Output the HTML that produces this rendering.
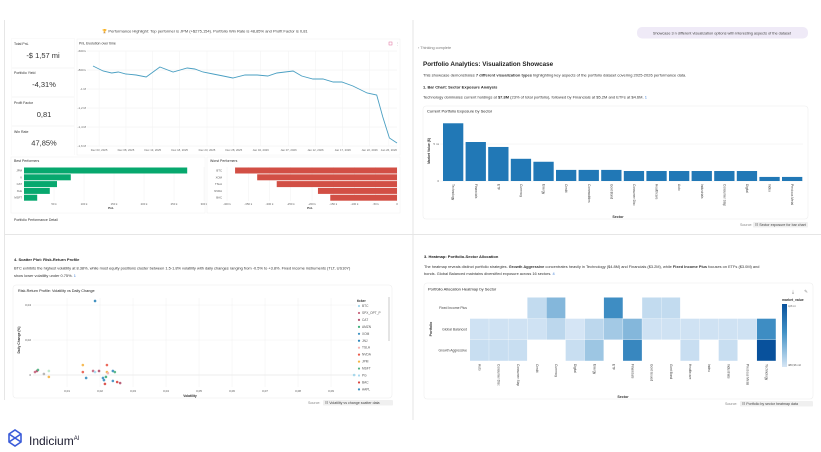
<!DOCTYPE html>
<html><head><meta charset="utf-8">
<style>
html,body{margin:0;padding:0;background:#fff;}
svg{display:block;font-family:"Liberation Sans",sans-serif;}
</style></head>
<body>
<svg id="root" width="821" height="452" viewBox="0 0 821 452" xmlns="http://www.w3.org/2000/svg">
<rect x="0" y="0" width="821" height="452" fill="#ffffff"/>
<!-- dividers -->
<line x1="4.5" y1="20" x2="4.5" y2="234" stroke="#e6e6e6"/>
<line x1="413" y1="20" x2="413" y2="234" stroke="#e6e6e6"/>
<line x1="4.5" y1="234" x2="4.5" y2="400" stroke="#e6e6e6"/>
<line x1="413" y1="234" x2="413" y2="420" stroke="#e6e6e6"/>
<line x1="4" y1="234.5" x2="821" y2="234.5" stroke="#e6e6e6"/>

<!-- ========== TOP LEFT DASHBOARD ========== -->
<g>
<text x="205" y="32.5" font-size="4" fill="#444" text-anchor="middle">🏆 Performance Highlight: Top performer is JPM (+$275,154). Portfolio Win Rate is 48,85% and Profit Factor is 0,81</text>
<rect x="11" y="38" width="64" height="117" fill="#fafafa"/>
<rect x="12" y="39" width="62" height="28" fill="#fff"/>
<rect x="12" y="69" width="62" height="27" fill="#fff"/>
<rect x="12" y="98" width="62" height="27" fill="#fff"/>
<rect x="12" y="127" width="62" height="28" fill="#fff"/>
<text x="14" y="45" font-size="3.5" fill="#333">Total PnL</text>
<text x="43" y="58" font-size="7.5" fill="#333" text-anchor="middle">-$ 1,57 mi</text>
<text x="14" y="74" font-size="3.5" fill="#333">Portfolio Yield</text>
<text x="44" y="87" font-size="7.5" fill="#333" text-anchor="middle">-4,31%</text>
<text x="14" y="104" font-size="3.5" fill="#333">Profit Factor</text>
<text x="44" y="117" font-size="7.5" fill="#333" text-anchor="middle">0,81</text>
<text x="14" y="133" font-size="3.5" fill="#333">Win Rate</text>
<text x="44" y="145.5" font-size="7.5" fill="#333" text-anchor="middle">47,85%</text>

<rect x="77" y="39" width="323" height="116" fill="#fff" stroke="#f0f0f0" stroke-width="0.5"/>
<text x="79" y="44.5" font-size="3.5" fill="#333">PnL Evolution over time</text>
<rect x="389" y="42" width="3" height="3" fill="none" stroke="#e06b9a" stroke-width="0.5"/>
<text x="396" y="45" font-size="3.5" fill="#999">⋮</text>
<g id="lineChart"></g>

<rect x="11" y="157" width="194" height="56" fill="#fff" stroke="#f0f0f0" stroke-width="0.5"/>
<text x="14" y="162" font-size="3.5" fill="#333">Best Performers</text>
<g id="bestChart"></g>
<rect x="207" y="157" width="193" height="56" fill="#fff" stroke="#f0f0f0" stroke-width="0.5"/>
<text x="210" y="162" font-size="3.5" fill="#333">Worst Performers</text>
<g id="worstChart"></g>
<text x="14" y="221" font-size="3.5" fill="#333">Portfolio Performance Detail</text>
</g>

<!-- ========== TOP RIGHT ========== -->
<g>
<rect x="637" y="27" width="171" height="11.5" rx="5" fill="#efeaf7"/>
<text x="722" y="34.5" font-size="3.8" fill="#444" text-anchor="middle">Showcase 3 n different visualization options with interesting aspects of the dataset</text>
<text x="418" y="49" font-size="3.8" fill="#777">›  Thinking complete</text>
<text x="423" y="66" font-size="6.3" font-weight="bold" fill="#222">Portfolio Analytics: Visualization Showcase</text>
<text x="423" y="76.5" font-size="4" fill="#333">This showcase demonstrates <tspan font-weight="bold">7 different visualization types</tspan> highlighting key aspects of the portfolio dataset covering 2025-2026 performance data.</text>
<text x="423" y="88.5" font-size="4" font-weight="bold" fill="#222">1. Bar Chart: Sector Exposure Analysis</text>
<text x="423" y="98.5" font-size="4" fill="#333">Technology dominates current holdings at <tspan font-weight="bold">$7.8M</tspan> (23% of total portfolio), followed by Financials at $5.2M and ETFs at $4.6M. <tspan fill="#3b7dd8">1</tspan></text>
<rect x="423" y="106" width="385" height="113" rx="3" fill="#fff" stroke="#eeeeee" stroke-width="0.6"/>
<text x="427" y="112.5" font-size="4" fill="#222">Current Portfolio Exposure by Sector</text>
<g id="barChart"></g>
<text x="740" y="226" font-size="3.6" fill="#888">Source:</text>
<rect x="753" y="222" width="55" height="5.5" rx="1" fill="#f0f0f0"/>
<text x="755" y="226" font-size="3.6" fill="#444">☷ Sector exposure for bar chart</text>
</g>

<!-- ========== BOTTOM LEFT ========== -->
<g>
<text x="14" y="261" font-size="4" font-weight="bold" fill="#222">4. Scatter Plot: Risk-Return Profile</text>
<text x="14" y="269.5" font-size="3.9" fill="#333">BTC exhibits the highest volatility at 8.38%, while most equity positions cluster between 1.5-1.8% volatility with daily changes ranging from -0.5% to +3.8%. Fixed income instruments (TLT, US10Y)</text>
<text x="14" y="277" font-size="3.9" fill="#333">show lower volatility under 0.75%. <tspan fill="#3b7dd8">1</tspan></text>
<rect x="13" y="285" width="379" height="113" rx="3" fill="#fff" stroke="#eeeeee" stroke-width="0.6"/>
<text x="18" y="292" font-size="3.8" fill="#222">Risk-Return Profile: Volatility vs Daily Change</text>
<g id="scatterChart"></g>
<text x="308" y="404" font-size="3.6" fill="#888">Source:</text>
<rect x="323" y="400" width="70" height="5.5" rx="1" fill="#f0f0f0"/>
<text x="325" y="404" font-size="3.6" fill="#444">☷ Volatility vs change scatter data</text>
<g>
<path d="M9 434 L15 430 L21 434 L21 442 L15 446 L9 442 Z M9 434 L21 442 M21 434 L9 442" fill="none" stroke="#3a5bd9" stroke-width="1.6"/>
<text x="29" y="445" font-size="12" fill="#1a1a2e">Indicium<tspan font-size="6" dy="-5">AI</tspan></text>
</g>
</g>

<!-- ========== BOTTOM RIGHT ========== -->
<g>
<text x="424" y="258" font-size="4" font-weight="bold" fill="#222">3. Heatmap: Portfolio-Sector Allocation</text>
<text x="424" y="268" font-size="3.9" fill="#333">The heatmap reveals distinct portfolio strategies. <tspan font-weight="bold">Growth Aggressive</tspan> concentrates heavily in Technology ($4.8M) and Financials ($3.2M), while <tspan font-weight="bold">Fixed Income Plus</tspan> focuses on ETFs ($3.0M) and</text>
<text x="424" y="275" font-size="3.9" fill="#333">bonds. Global Balanced maintains diversified exposure across 16 sectors. <tspan fill="#3b7dd8">4</tspan></text>
<rect x="424" y="283" width="389" height="116" rx="3" fill="#fff" stroke="#eeeeee" stroke-width="0.6"/>
<text x="428" y="290.5" font-size="4" fill="#222">Portfolio Allocation Heatmap by Sector</text>
<text x="793" y="293" font-size="4.5" fill="#888" text-anchor="middle">⤓</text>
<text x="806" y="293" font-size="4.5" fill="#888" text-anchor="middle">✎</text>
<g id="heatChart"></g>
<text x="725" y="405" font-size="3.6" fill="#888">Source:</text>
<rect x="740" y="401" width="73" height="5.5" rx="1" fill="#f0f0f0"/>
<text x="742" y="405" font-size="3.6" fill="#444">☷ Portfolio by sector heatmap data</text>
</g>
</svg>

<script>
// ---------- data ----------
const lineDays = [0,2,3.7,5,6.5,8.5,10.5,13.2,15.8,18.6,20.1,21.7,23.7,25.7,27.6,30,32.4,34.5,36.3,39.5,41.2,43.4,45.4,47.4,49.1,51.3,54.1,56,57.2,58.5,60];
const lineValues = [-0.758,-0.811,-0.832,-0.821,-0.842,-0.853,-0.874,-0.768,-0.821,-0.779,-0.789,-0.821,-0.842,-0.863,-0.884,-0.853,-0.853,-0.863,-0.832,-0.811,-0.863,-0.895,-0.895,-0.926,-0.926,-0.968,-1.042,-1.063,-1.295,-1.516,-1.568];
const lineYTicks = [-0.6,-0.8,-1.0,-1.2,-1.4,-1.6];
const lineYTickLabels = ["-600 k","-800 k","-1 M","-1,2 M","-1,4 M","-1,6 M"];
const lineXTicks = [1.2,6.5,11.8,17.1,22.5,27.8,33.1,38.6,43.9,49.3,54.6,58.4];
const lineXTickLabels = ["Dec 03, 2025","Dec 08, 2025","Dec 13, 2025","Dec 18, 2025","Dec 23, 2025","Dec 28, 2025","Jan 02, 2026","Jan 07, 2026","Jan 12, 2026","Jan 17, 2026","Jan 22, 2026","Jan 26, 2026"];

const bestNames = ["JPM","V","CAT","XLE","MSFT"];
const bestValues = [272000,78000,55000,43000,22000];
const bestTicks = [50000,100000,150000,200000,250000,300000];
const bestTickLabels = ["50 k","100 k","150 k","200 k","250 k","300 k"];

const worstNames = ["BTC","XOM","TSLA","NVDA","BAC"];
const worstValues = [-381000,-329000,-283000,-186000,-157000];
const worstTicks = [-400000,-350000,-300000,-250000,-200000,-150000,-100000,-50000,0];
const worstTickLabels = ["-400 k","-350 k","-300 k","-250 k","-200 k","-150 k","-100 k","-50 k","0"];

const sectors = ["Technology","Financials","ETF","Currency","Energy","Credit","Commodities","Govt Bond","Consumer Disc","Healthcare","Auto","Industrials","Consumer Stap","Digital","Index","Precious Metal"];
const sectorValues = [7.8,5.27,4.6,3.0,2.6,1.5,1.5,1.5,1.35,1.35,1.35,1.35,1.35,1.35,0.55,0.55];
const barYTicks = [0,5];
const barYTickLabels = ["0","5 mi"];

const scatterTickers = ["JNJ","SPX_OPT_P","CAT","MSFT","TLT","US10Y","JPM","GLD","NVDA","XOM","SPX_OPT_P","PG","CAT","AAPL","XOM","BAC","AMZN","NVDA","JPM","TSLA","XOM","AAPL","MSFT","BAC","CAT","BTC"];
const scatterVol = [0.0185,0.0003,0.0009,0.0012,0.0030,0.0045,0.0045,0.0148,0.0148,0.0158,0.0179,0.0185,0.0197,0.0209,0.0212,0.0215,0.0218,0.0221,0.0221,0.0224,0.0239,0.0239,0.0245,0.0252,0.0261,0.0970];
const scatterChg = [0.0423,0.0017,0.0023,0.0029,0.0006,0.0023,-0.0011,0.0057,0.0017,-0.0017,0.0023,0.0017,0.0023,-0.0017,-0.0029,-0.0051,-0.0011,0.0057,0.0017,0.0011,0.0023,-0.0034,0.0017,-0.0040,-0.0046,0.0000];
const scatterXTicks = [0.01,0.02,0.03,0.04,0.05,0.06,0.07,0.08,0.09];
const scatterXTickLabels = ["0,01","0,02","0,03","0,04","0,05","0,06","0,07","0,08","0,09"];
const scatterYTicks = [0,0.02,0.04];
const scatterYTickLabels = ["0","0,02","0,04"];
const legendTickers = ["BTC","SPX_OPT_P","CAT","AMZN","XOM","JNJ","TSLA","NVDA","JPM","MSFT","PG","BAC","AAPL","US10Y"];

const heatSectors = ["Auto","Consumer Disc","Consumer Stap","Credit","Currency","Digital","Energy","ETF","Financials","Govt Issued","Govt Bond","Healthcare","Index","Industrials","Precious Metal","Technology"];
const heatPortfolios = ["Fixed Income Plus","Global Balanced","Growth Aggressive"];
const heatFixedIncome = [null,null,null,0.8,1.8,null,null,3.0,null,0.8,0.8,null,null,null,null,null];
const heatGlobalBalanced = [0.6,0.6,0.6,0.6,0.9,0.5,0.9,1.3,1.8,0.6,0.6,0.6,0.6,0.6,0.6,3.0];
const heatGrowth = [0.7,0.7,0.7,null,null,0.7,1.4,null,3.2,null,null,0.7,null,0.7,null,4.8];
const heatMin = 0.481, heatMax = 4.8;

// ---------- helpers ----------
const NS = "http://www.w3.org/2000/svg";
function mk(parent, tag, attrs, txt){
  const el = document.createElementNS(NS, tag);
  for (const k in attrs) el.setAttribute(k, attrs[k]);
  if (txt !== undefined) el.textContent = txt;
  parent.appendChild(el);
  return el;
}
function lin(d0,d1,r0,r1){ return v => r0 + (v-d0)/(d1-d0)*(r1-r0); }

// ---------- line chart ----------
(function(){
  const g = document.getElementById('lineChart');
  const x = lin(0,60,93,397), y = lin(-0.6,-1.6,51,146);
  lineYTicks.forEach((t,i)=>{
    const gl = mk(g,'line',{x1:87,x2:397,y1:y(t),y2:y(t),stroke:'#eeeeee','stroke-width':0.5});
    
    
    const tl = mk(g,'text',{x:86,y:y(t)+1,'font-size':3,fill:'#666','text-anchor':'end'},lineYTickLabels[i]);
    
    
  });
  lineXTicks.forEach((t,i)=>{
    const gl = mk(g,'line',{x1:x(t),x2:x(t),y1:51,y2:146,stroke:'#f2f2f2','stroke-width':0.5});
    
    
    const tl = mk(g,'text',{x:x(t),y:151,'font-size':2.8,fill:'#666','text-anchor':'middle'},lineXTickLabels[i]);
    
    
  });
  const pts = lineDays.map((d,i)=>x(d).toFixed(1)+','+y(lineValues[i]).toFixed(1)).join(' ');
  const pl = mk(g,'polyline',{points:pts,fill:'none',stroke:'#4a9fc2','stroke-width':0.9});
  
  
})();

// ---------- best / worst ----------
(function(){
  const g = document.getElementById('bestChart');
  const x = lin(0,50000,24,54);
  bestTicks.forEach((t,i)=>{
    const gl = mk(g,'line',{x1:x(t),x2:x(t),y1:167,y2:201,stroke:'#f0f0f0','stroke-width':0.5});
    
    
    const tl = mk(g,'text',{x:x(t),y:205,'font-size':2.8,fill:'#666','text-anchor':'middle'},bestTickLabels[i]);
    
    
  });
  bestNames.forEach((n,i)=>{
    const yy = 167.5 + i*6.8;
    const r = mk(g,'rect',{x:24,y:yy,width:x(bestValues[i])-24,height:6,fill:'#07a86e'});
    
    
    const tl = mk(g,'text',{x:22,y:yy+4,'font-size':2.8,fill:'#555','text-anchor':'end'},n);
    
    
  });
  const al = mk(g,'text',{x:111,y:209,'font-size':3,'font-weight':'bold',fill:'#333','text-anchor':'middle'},'PnL');
  
  

  const w = document.getElementById('worstChart');
  const xw = lin(-400000,0,227,397);
  worstTicks.forEach((t,i)=>{
    const gl = mk(w,'line',{x1:xw(t),x2:xw(t),y1:167,y2:201,stroke:'#f0f0f0','stroke-width':0.5});
    
    
    const tl = mk(w,'text',{x:xw(t),y:205,'font-size':2.8,fill:'#666','text-anchor':'middle'},worstTickLabels[i]);
    
    
  });
  worstNames.forEach((n,i)=>{
    const yy = 167.5 + i*6.8;
    const x0 = xw(worstValues[i]);
    const r = mk(w,'rect',{x:x0,y:yy,width:xw(0)-x0,height:6,fill:'#d24f45'});
    
    
    const tl = mk(w,'text',{x:222,y:yy+4,'font-size':2.8,fill:'#555','text-anchor':'end'},n);
    
    
  });
  const aw = mk(w,'text',{x:310,y:209,'font-size':3,'font-weight':'bold',fill:'#333','text-anchor':'middle'},'PnL');
  
  
})();

// ---------- sector bar chart ----------
(function(){
  const g = document.getElementById('barChart');
  const y = lin(0,5,181,144);
  const step = 22.6, x0 = 443, bw = 20.3;
  barYTicks.forEach((t,i)=>{
    const gl = mk(g,'line',{x1:440,x2:803,y1:y(t),y2:y(t),stroke:'#eeeeee','stroke-width':0.5});
    
    
    const tl = mk(g,'text',{x:439,y:y(t)+1,'font-size':3,fill:'#666','text-anchor':'end'},barYTickLabels[i]);
    
    
  });
  sectors.forEach((s,i)=>{
    const xx = x0 + i*step;
    const r = mk(g,'rect',{x:xx,y:y(sectorValues[i]),width:bw,height:y(0)-y(sectorValues[i]),fill:'#2178b6'});
    
    
    const cx = xx + bw/2 - 1;
    const tl = mk(g,'text',{x:cx,y:184,'font-size':3.2,fill:'#444',transform:`rotate(90 ${cx} 184)`},s);
    
    
  });
  const xt = mk(g,'text',{x:618,y:218,'font-size':3.6,'font-weight':'bold',fill:'#333','text-anchor':'middle'},'Sector');
  
  
  const yt = mk(g,'text',{x:430,y:151,'font-size':3.4,'font-weight':'bold',fill:'#333','text-anchor':'middle',transform:'rotate(-90 430 151)'},'Market Value ($)');
  
  
})();

// ---------- scatter ----------
(function(){
  const g = document.getElementById('scatterChart');
  const colors = {BTC:'#9fd4ea',SPX_OPT_P:'#c8667e',CAT:'#b3536f',AMZN:'#3fae7a',XOM:'#3a8fc0',JNJ:'#2f86ba',TSLA:'#f6b1ae',NVDA:'#ea5a4a',JPM:'#f5b444',MSFT:'#4db27f',PG:'#a9d9ee',BAC:'#d9443e',AAPL:'#3d90bf',US10Y:'#b9e6c9',TLT:'#b0b0b0',GLD:'#f5b444'};
  const x = lin(0,0.01,34,67), y = lin(0,0.02,375,340);
  scatterXTicks.forEach((t,i)=>{
    const gl = mk(g,'line',{x1:x(t),x2:x(t),y1:298,y2:387,stroke:'#f0f0f0','stroke-width':0.5});
    
    
    const tl = mk(g,'text',{x:x(t),y:392,'font-size':3,fill:'#555','text-anchor':'middle'},scatterXTickLabels[i]);
    
    
  });
  scatterYTicks.forEach((t,i)=>{
    const gl = mk(g,'line',{x1:33,x2:356,y1:y(t),y2:y(t),stroke:t===0?'#dddddd':'#f0f0f0','stroke-width':0.5});
    
    
    const tl = mk(g,'text',{x:31,y:y(t)+1,'font-size':3,fill:'#555','text-anchor':'end'},scatterYTickLabels[i]);
    
    
  });
  scatterVol.forEach((v,i)=>{
    const c = mk(g,'circle',{cx:x(v),cy:y(scatterChg[i]),r:1.3,fill:colors[scatterTickers[i]]||'#999',opacity:0.9});
    
    
  });
  const xt = mk(g,'text',{x:190,y:397,'font-size':3.3,'font-weight':'bold',fill:'#333','text-anchor':'middle'},'Volatility');
  
  
  const yt = mk(g,'text',{x:20,y:340,'font-size':3.3,'font-weight':'bold',fill:'#333','text-anchor':'middle',transform:'rotate(-90 20 340)'},'Daily Change (%)');
  
  
  const lt = mk(g,'text',{x:357,y:302,'font-size':3.3,'font-weight':'bold',fill:'#333'},'ticker');
  
  
  legendTickers.forEach((t,i)=>{
    const yy = 307 + i*6.95;
    if (yy > 397) return;
    const c = mk(g,'circle',{cx:359,cy:yy-1,r:1.1,fill:colors[t]});
    
    
    const tl = mk(g,'text',{x:362,y:yy,'font-size':3.2,fill:'#555'},t);
    
    
  });
  const sb = mk(g,'rect',{x:388.5,y:297,width:1,height:44,fill:'#c8c8c8'});
  
  
})();

// ---------- heatmap ----------
(function(){
  const g = document.getElementById('heatChart');
  const rows = [heatFixedIncome, heatGlobalBalanced, heatGrowth];
  const x0 = 470, cw = 19.13, y0 = 297.5, rh = 21.2;
  const stops = [[0,[214,230,245]],[0.55,[66,146,198]],[1,[8,81,156]]];
  function col(v){
    const f = Math.max(0,Math.min(1,(v-heatMin)/(heatMax-heatMin)));
    let a=stops[0], b=stops[1];
    if (f>stops[1][0]){a=stops[1];b=stops[2];}
    const t=(f-a[0])/(b[0]-a[0]);
    const c=a[1].map((q,k)=>Math.round(q+(b[1][k]-q)*t));
    return `rgb(${c[0]},${c[1]},${c[2]})`;
  }
  rows.forEach((row,ri)=>{
    row.forEach((v,ci)=>{
      if (v===null) return;
      const r = mk(g,'rect',{x:x0+ci*cw,y:y0+ri*rh,width:cw-0.3,height:rh-0.3,fill:col(v)});
      
      
    });
    const tl = mk(g,'text',{x:467,y:y0+ri*rh+rh/2+1,'font-size':3.4,fill:'#444','text-anchor':'end'},heatPortfolios[ri]);
    
    
  });
  heatSectors.forEach((s,ci)=>{
    const cx = x0 + ci*cw + cw/2 - 1;
    const tl = mk(g,'text',{x:cx,y:364,'font-size':3.2,fill:'#444',transform:`rotate(90 ${cx} 364)`},s);
    
    
  });
  const xt = mk(g,'text',{x:623,y:398,'font-size':3.6,'font-weight':'bold',fill:'#333','text-anchor':'middle'},'Sector');
  
  
  const yt = mk(g,'text',{x:432,y:329,'font-size':3.6,'font-weight':'bold',fill:'#333','text-anchor':'middle',transform:'rotate(-90 432 329)'},'Portfolio');
  
  
  const defs = mk(g,'defs',{});
  const lg = mk(defs,'linearGradient',{id:'heatGrad',x1:0,y1:1,x2:0,y2:0});
  stops.forEach(s=>mk(lg,'stop',{offset:s[0],'stop-color':`rgb(${s[1].join(',')})`}));
  const cb = mk(g,'rect',{x:782,y:304,width:5,height:63,fill:'url(#heatGrad)'});
  
  
  const ct = mk(g,'text',{x:782,y:301,'font-size':3.4,'font-weight':'bold',fill:'#333'},'market_value');
  
  
  const c1 = mk(g,'text',{x:788,y:307,'font-size':2.8,fill:'#555'},'4,8 mi');
  
  
  const c2 = mk(g,'text',{x:788,y:366,'font-size':2.8,fill:'#555'},'480,96 mil');
  
  
})();
</script>
</body></html>
